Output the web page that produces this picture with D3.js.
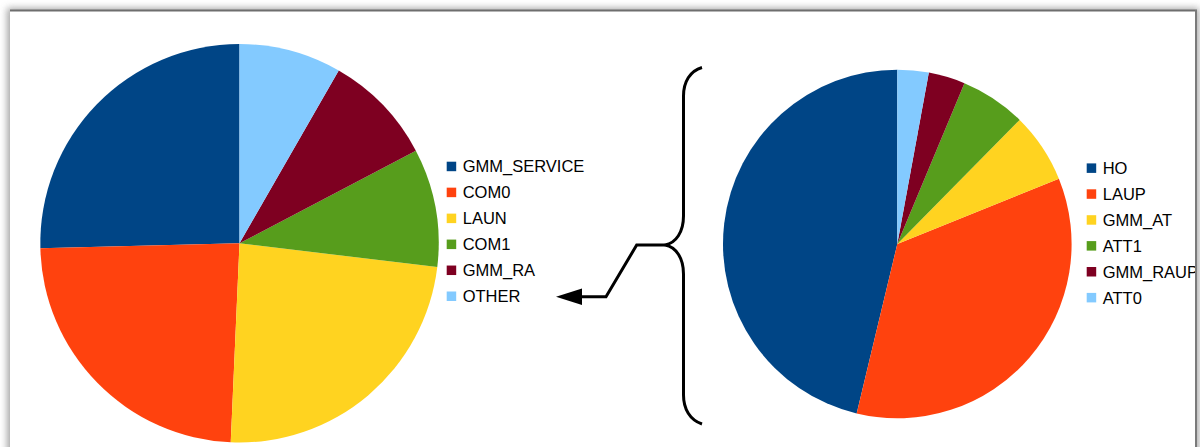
<!DOCTYPE html>
<html>
<head>
<meta charset="utf-8">
<script src="https://cdn.jsdelivr.net/npm/d3@7"></script>
<style>
  html, body { margin: 0; padding: 0; background: #fff; }
  svg { display: block; }
  text { font-family: "Liberation Sans", Arial, sans-serif; }
</style>
</head>
<body>
<svg id="chart" width="1200" height="447"></svg>
<script>
// Message categories (overall breakdown) and their shares in percent
const mainCategories = ["GMM_SERVICE", "COM0", "LAUN", "COM1", "GMM_RA", "OTHER"];
const mainValues = [25.4, 23.9, 23.8, 9.6, 9.0, 8.3];

// Breakdown of the OTHER group
const detailCategories = ["HO", "LAUP", "GMM_AT", "ATT1", "GMM_RAUP", "ATT0"];
const detailValues = [46.3, 34.9, 6.5, 6.1, 3.4, 2.9];

const palette = ["#004586", "#ff420e", "#ffd320", "#579d1c", "#7e0021", "#83caff"];

const svg = d3.select("#chart");
const W = 1200, H = 447;

// Page with soft drop shadow
const defs = svg.append("defs");
const blur = defs.append("filter").attr("id", "pageShadow")
  .attr("x", "-5%").attr("y", "-20%").attr("width", "110%").attr("height", "140%");
blur.append("feGaussianBlur").attr("stdDeviation", 3.5);

const clip = defs.append("clipPath").attr("id", "pageClip");
clip.append("rect").attr("x", 10).attr("y", 11).attr("width", 1185).attr("height", H);

svg.append("rect").attr("x", 0).attr("y", 0).attr("width", W).attr("height", H).attr("fill", "#fff");
svg.append("rect").attr("x", 7).attr("y", 8).attr("width", 1192).attr("height", H + 40)
  .attr("fill", "#8a8a8a").attr("opacity", 0.75).attr("filter", "url(#pageShadow)");
svg.append("rect").attr("x", 10).attr("y", 10).attr("width", 1186).attr("height", H + 40).attr("fill", "#fff");
svg.append("line").attr("x1", 10).attr("x2", 1197).attr("y1", 10.5).attr("y2", 10.5)
  .attr("stroke", "#6e6e6e").attr("stroke-width", 2);
svg.append("line").attr("x1", 1196).attr("x2", 1196).attr("y1", 10).attr("y2", H)
  .attr("stroke", "#7a7a7a").attr("stroke-width", 2);

const page = svg.append("g").attr("clip-path", "url(#pageClip)");

// Pies run counter-clockwise from 12 o'clock
const pie = d3.pie().sort(null).value(d => d.value).startAngle(0).endAngle(-2 * Math.PI);

function drawPie(cats, vals, cx, cy, r) {
  const color = d3.scaleOrdinal().domain(cats).range(palette);
  const data = cats.map((c, i) => ({ name: c, value: vals[i] }));
  const arc = d3.arc().innerRadius(0).outerRadius(r);
  page.append("g").attr("transform", `translate(${cx},${cy})`)
    .selectAll("path").data(pie(data)).join("path")
    .attr("d", arc)
    .attr("fill", d => color(d.data.name));
  return color;
}

function drawLegend(cats, color, x, y0, step) {
  const g = page.append("g");
  const rows = g.selectAll("g").data(cats).join("g")
    .attr("transform", (d, i) => `translate(${x},${y0 + i * step})`);
  rows.append("rect").attr("x", 0).attr("y", -4.8).attr("width", 9.5).attr("height", 9.5)
    .attr("fill", d => color(d));
  rows.append("text").attr("x", 16).attr("y", 5.9)
    .attr("font-size", 16.5).attr("fill", "#000").text(d => d);
}

const mainColor = drawPie(mainCategories, mainValues, 239.5, 243.3, 199.2);
drawLegend(mainCategories, mainColor, 446.7, 166.5, 25.96);

const detailColor = drawPie(detailCategories, detailValues, 897.3, 244, 174.3);
drawLegend(detailCategories, detailColor, 1086.7, 168.2, 25.9);

// Brace grouping the detail pie, with a connector back to OTHER
const bx = 683.5, tipX = 665, midY = 245;
const brace = d3.path();
brace.moveTo(702, 67.5);
brace.bezierCurveTo(690, 71, bx, 82, bx, 96);
brace.lineTo(bx, 216);
brace.bezierCurveTo(bx, 232, 676, 243, tipX, midY);
brace.bezierCurveTo(676, 247, bx, 258, bx, 274);
brace.lineTo(bx, 395);
brace.bezierCurveTo(bx, 409, 690, 420, 702, 424);
page.append("path").attr("d", brace.toString())
  .attr("fill", "none").attr("stroke", "#000").attr("stroke-width", 3);

const connector = d3.line()([[tipX, midY], [636.7, midY], [606, 296.7], [581, 296.7]]);
page.append("path").attr("d", connector)
  .attr("fill", "none").attr("stroke", "#000").attr("stroke-width", 3).attr("stroke-linejoin", "miter");
page.append("path").attr("d", d3.line()([[582, 288.5], [556, 296.7], [582, 304.9]]) + "Z")
  .attr("fill", "#000");
</script>
</body>
</html>
